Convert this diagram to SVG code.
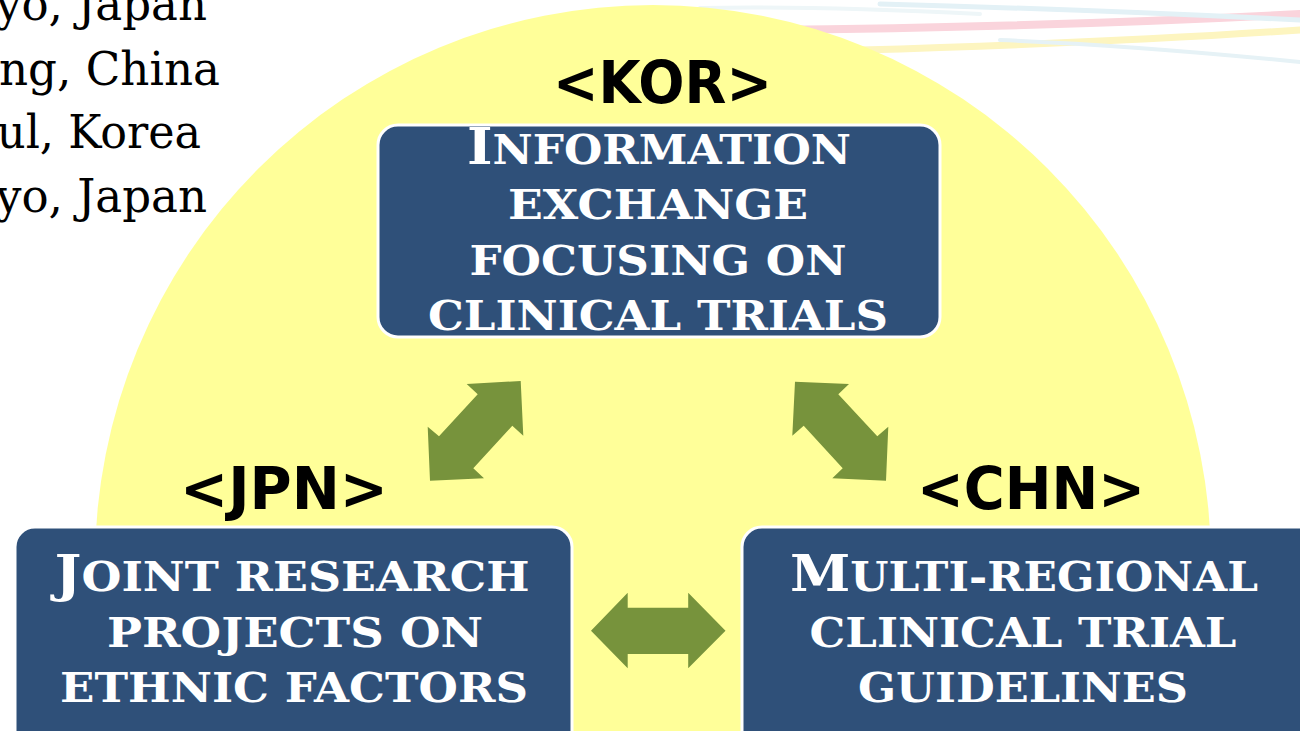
<svg xmlns="http://www.w3.org/2000/svg" width="1300" height="731" viewBox="0 0 1300 731">
<defs>
<style>
.city{font-family:"DejaVu Serif","Liberation Serif",serif;font-size:46px;fill:#000;}
.tag{font-family:"DejaVu Sans","Liberation Sans",sans-serif;font-weight:bold;font-size:58px;fill:#000;}
.box{fill:#2F5079;stroke:#fff;stroke-width:3;}
.bt{font-family:"DejaVu Serif","Liberation Serif",serif;font-weight:bold;font-size:41px;fill:#fff;text-anchor:middle;}
.big{font-size:51px;}
.arr{fill:#77933C;}
</style>
</defs>
<rect width="1300" height="731" fill="#fff"/>
<g id="background" fill="none" stroke-linecap="round">
<path d="M760,30 C950,28 1150,22 1300,14" stroke="#FAD4DC" stroke-width="8"/>
<path d="M860,50 C1000,46 1150,40 1300,30" stroke="#FDF5C0" stroke-width="7"/>
<path d="M880,4 C1030,8 1180,14 1300,20" stroke="#E3F1F6" stroke-width="5"/>
<path d="M1000,40 C1100,44 1200,52 1300,62" stroke="#E6F2F6" stroke-width="4"/>
<path d="M700,8 C800,6 900,10 980,14" stroke="#EEF6F8" stroke-width="4"/>
</g>
<circle id="sun" cx="653" cy="563" r="558" fill="#FFFF99"/>
<g id="cities">
<text class="city" x="-4" y="20" textLength="211" lengthAdjust="spacingAndGlyphs">yo, Japan</text>
<text class="city" x="-1" y="85" textLength="221" lengthAdjust="spacingAndGlyphs">ng, China</text>
<text class="city" x="-3" y="148" textLength="204" lengthAdjust="spacingAndGlyphs">ul, Korea</text>
<text class="city" x="-4" y="212" textLength="211" lengthAdjust="spacingAndGlyphs">yo, Japan</text>
</g>
<g id="connectors">
<polygon class="arr" points="466.7,384 520.7,381 523.3,435.7 512.3,425.7 473.3,468.3 484,478.3 430,480.7 427.7,426.7 439,436.3 477.7,394.3"/>
<polygon class="arr" points="795,381.7 849,384 838.3,394.3 877.3,436.3 888.3,426.7 886,480.7 832.3,478.3 842.7,468.3 803.7,425.7 792.3,435.7"/>
<polygon class="arr" points="591,630.7 627.7,592.7 627.7,607.7 688.2,607.7 688.2,592.7 725.5,630.7 688.2,668.3 688.2,654 627.7,654 627.7,668.3"/>
</g>
<g id="kor">
<text class="tag" x="553" y="103" textLength="219" lengthAdjust="spacingAndGlyphs">&lt;KOR&gt;</text>
<rect class="box" x="378" y="125" width="562" height="212" rx="20"/>
<text class="bt" x="659" y="164" textLength="384" lengthAdjust="spacingAndGlyphs"><tspan class="big">I</tspan>NFORMATION</text>
<text class="bt" x="658" y="219" textLength="300" lengthAdjust="spacingAndGlyphs">EXCHANGE</text>
<text class="bt" x="658" y="275" textLength="377" lengthAdjust="spacingAndGlyphs">FOCUSING ON</text>
<text class="bt" x="658" y="330" textLength="460" lengthAdjust="spacingAndGlyphs">CLINICAL TRIALS</text>
</g>
<g id="jpn">
<text class="tag" x="180" y="509" textLength="208" lengthAdjust="spacingAndGlyphs">&lt;JPN&gt;</text>
<rect class="box" x="15" y="527" width="557" height="240" rx="20"/>
<text class="bt" x="292" y="591" textLength="475" lengthAdjust="spacingAndGlyphs"><tspan class="big">J</tspan>OINT RESEARCH</text>
<text class="bt" x="295" y="647" textLength="376" lengthAdjust="spacingAndGlyphs">PROJECTS ON</text>
<text class="bt" x="294" y="702" textLength="468" lengthAdjust="spacingAndGlyphs">ETHNIC FACTORS</text>
</g>
<g id="chn">
<text class="tag" x="917" y="509" textLength="228" lengthAdjust="spacingAndGlyphs">&lt;CHN&gt;</text>
<rect class="box" x="742" y="527" width="580" height="240" rx="20"/>
<text class="bt" x="1024" y="591" textLength="468" lengthAdjust="spacingAndGlyphs"><tspan class="big">M</tspan>ULTI-REGIONAL</text>
<text class="bt" x="1023" y="647" textLength="427" lengthAdjust="spacingAndGlyphs">CLINICAL TRIAL</text>
<text class="bt" x="1023" y="702" textLength="330" lengthAdjust="spacingAndGlyphs">GUIDELINES</text>
</g>
</svg>
